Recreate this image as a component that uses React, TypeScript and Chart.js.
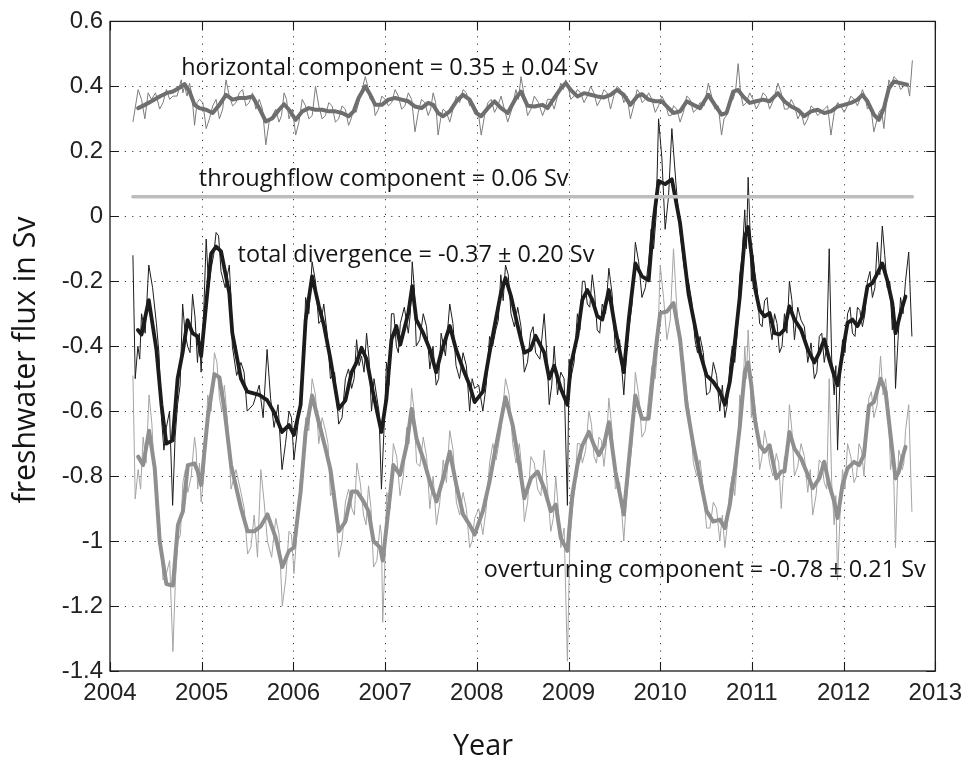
import { useEffect, useRef } from "react";
import { Chart, registerables } from "chart.js";

Chart.register(...registerables);

// ---------- data (decimal years, Sv) ----------
const BLACK_YEARS = [
  2004.304, 2004.344, 2004.423, 2004.506, 2004.561, 2004.615, 2004.683, 2004.737, 2004.792, 2004.846,
  2004.9, 2004.954, 2004.994, 2005.049, 2005.103, 2005.157, 2005.211, 2005.301, 2005.334, 2005.428,
  2005.496, 2005.627, 2005.713, 2005.789, 2005.876, 2005.952, 2006.006, 2006.079, 2006.133, 2006.204,
  2006.277, 2006.331, 2006.404, 2006.494, 2006.567, 2006.635, 2006.689, 2006.743, 2006.798, 2006.852,
  2006.906, 2006.96, 2007.015, 2007.069, 2007.123, 2007.166, 2007.253, 2007.296, 2007.34, 2007.416,
  2007.488, 2007.557, 2007.611, 2007.705, 2007.774, 2007.85, 2007.922, 2007.976, 2008.066, 2008.139,
  2008.207, 2008.262, 2008.313, 2008.373, 2008.446, 2008.518, 2008.587, 2008.641, 2008.735, 2008.79,
  2008.844, 2008.916, 2008.988, 2009.024, 2009.097, 2009.151, 2009.205, 2009.259, 2009.313, 2009.368,
  2009.44, 2009.512, 2009.603, 2009.657, 2009.729, 2009.801, 2009.874, 2009.928, 2009.982, 2010.054,
  2010.127, 2010.217, 2010.308, 2010.379, 2010.434, 2010.506, 2010.579, 2010.65, 2010.705, 2010.759,
  2010.813, 2010.867, 2010.922, 2010.959, 2010.994, 2011.03, 2011.084, 2011.138, 2011.193, 2011.247,
  2011.301, 2011.355, 2011.409, 2011.464, 2011.536, 2011.609, 2011.681, 2011.735, 2011.789, 2011.843,
  2011.897, 2011.934, 2011.988, 2012.043, 2012.097, 2012.151, 2012.205, 2012.26, 2012.314, 2012.368,
  2012.422, 2012.476, 2012.531, 2012.566, 2012.621, 2012.675,
];
const BLACK_THICK = [
  -0.35, -0.364, -0.258, -0.41, -0.58, -0.7, -0.69, -0.5, -0.42, -0.32,
  -0.36, -0.37, -0.43, -0.27, -0.115, -0.093, -0.108, -0.237, -0.36, -0.5,
  -0.54, -0.55, -0.566, -0.603, -0.664, -0.643, -0.673, -0.58, -0.32, -0.185,
  -0.276, -0.333, -0.44, -0.593, -0.567, -0.48, -0.45, -0.405, -0.44, -0.52,
  -0.593, -0.664, -0.56, -0.38, -0.338, -0.395, -0.298, -0.215, -0.318, -0.36,
  -0.41, -0.48, -0.42, -0.338, -0.41, -0.47, -0.52, -0.572, -0.54, -0.42,
  -0.318, -0.237, -0.19, -0.246, -0.338, -0.42, -0.41, -0.368, -0.42, -0.5,
  -0.46, -0.53, -0.58, -0.46, -0.368, -0.257, -0.227, -0.257, -0.307, -0.318,
  -0.227, -0.349, -0.48, -0.318, -0.145, -0.185, -0.197, -0.013, 0.109, 0.099,
  0.114, -0.022, -0.237, -0.338, -0.42, -0.49, -0.51, -0.54, -0.58, -0.51,
  -0.39, -0.25, -0.064, -0.033, -0.115, -0.216, -0.288, -0.308, -0.298, -0.36,
  -0.364, -0.349, -0.277, -0.318, -0.349, -0.41, -0.45, -0.42, -0.379, -0.44,
  -0.49, -0.52, -0.42, -0.328, -0.318, -0.338, -0.308, -0.216, -0.206, -0.176,
  -0.145, -0.197, -0.267, -0.36, -0.298, -0.247,
];
// raw (thin) values at the same dates as the smoothed curve
const BLACK_THIN = [
  -0.4, -0.3, -0.15, -0.33, -0.62, -0.65, -0.89, -0.58, -0.27, -0.4,
  -0.24, -0.45, -0.48, -0.07, -0.16, -0.05, -0.17, -0.15, -0.4, -0.45,
  -0.6, -0.52, -0.41, -0.65, -0.78, -0.6, -0.75, -0.55, -0.25, -0.14,
  -0.33, -0.27, -0.5, -0.64, -0.5, -0.53, -0.38, -0.43, -0.36, -0.6,
  -0.55, -0.84, -0.45, -0.3, -0.4, -0.33, -0.36, -0.14, -0.4, -0.3,
  -0.47, -0.52, -0.36, -0.27, -0.46, -0.42, -0.6, -0.53, -0.6, -0.37,
  -0.35, -0.18, -0.15, -0.3, -0.28, -0.48, -0.36, -0.42, -0.3, -0.58,
  -0.4, -0.48, -0.89, -0.5, -0.3, -0.2, -0.27, -0.18, -0.35, -0.27,
  -0.16, -0.42, -0.55, -0.35, -0.08, -0.25, -0.14, -0.1, 0.3, -0.04,
  0.27, -0.05, -0.2, -0.38, -0.37, -0.55, -0.45, -0.6, -0.62, -0.46,
  -0.45, -0.18, 0.02, 0.12, -0.2, -0.17, -0.33, -0.26, -0.33, -0.3,
  -0.42, -0.3, -0.2, -0.38, -0.32, -0.45, -0.5, -0.37, -0.45, -0.1,
  -0.55, -0.72, -0.38, -0.3, -0.36, -0.28, -0.34, -0.2, -0.25, -0.08,
  -0.03, -0.22, -0.35, -0.53, -0.25, -0.2,
];
// raw (thin) values half-way between those dates
const BLACK_THIN_MID = [
  -0.44, -0.36, -0.22, -0.42, -0.72, -0.6, -0.68, -0.52, -0.36, -0.42,
  -0.31, -0.36, -0.3, -0.22, -0.12, -0.06, -0.22, -0.24, -0.49, -0.48,
  -0.58, -0.62, -0.56, -0.58, -0.7, -0.62, -0.66, -0.47, -0.3, -0.2,
  -0.32, -0.36, -0.48, -0.62, -0.47, -0.5, -0.46, -0.48, -0.44, -0.5,
  -0.6, -0.66, -0.52, -0.3, -0.42, -0.28, -0.3, -0.22, -0.38, -0.34,
  -0.4, -0.5, -0.43, -0.33, -0.5, -0.46, -0.5, -0.52, -0.52, -0.4,
  -0.32, -0.26, -0.18, -0.34, -0.34, -0.45, -0.34, -0.44, -0.42, -0.52,
  -0.55, -0.5, -0.44, -0.45, -0.35, -0.2, -0.28, -0.24, -0.36, -0.3,
  -0.24, -0.38, -0.43, -0.27, -0.14, -0.22, -0.04, 0.0, 0.18, 0.06,
  0.1, -0.16, -0.26, -0.42, -0.42, -0.54, -0.49, -0.52, -0.58, -0.4,
  -0.36, -0.12, -0.1, -0.02, -0.12, -0.22, -0.34, -0.25, -0.38, -0.33,
  -0.4, -0.36, -0.26, -0.28, -0.34, -0.39, -0.48, -0.36, -0.4, -0.44,
  -0.46, -0.5, -0.42, -0.28, -0.37, -0.29, -0.3, -0.17, -0.22, -0.18,
  -0.12, -0.2, -0.28, -0.38, -0.3,
];
const BLACK_THIN_HEAD_YEARS = [2004.25, 2004.275];
const BLACK_THIN_HEAD = [-0.12, -0.5];
const BLACK_THIN_TAIL_YEARS = [2012.71, 2012.745];
const BLACK_THIN_TAIL = [-0.11, -0.37];

const OVER_YEARS = [
  2004.307, 2004.361, 2004.426, 2004.488, 2004.542, 2004.615, 2004.686, 2004.741, 2004.795, 2004.849,
  2004.922, 2004.957, 2004.994, 2005.066, 2005.139, 2005.193, 2005.247, 2005.32, 2005.428, 2005.5,
  2005.572, 2005.645, 2005.717, 2005.808, 2005.879, 2005.952, 2006.006, 2006.079, 2006.133, 2006.204,
  2006.277, 2006.35, 2006.404, 2006.494, 2006.567, 2006.638, 2006.692, 2006.765, 2006.819, 2006.874,
  2006.946, 2006.974, 2007.018, 2007.09, 2007.163, 2007.235, 2007.289, 2007.343, 2007.416, 2007.488,
  2007.56, 2007.633, 2007.705, 2007.777, 2007.85, 2007.922, 2007.976, 2008.066, 2008.139, 2008.211,
  2008.313, 2008.392, 2008.464, 2008.518, 2008.59, 2008.663, 2008.735, 2008.807, 2008.861, 2008.916,
  2008.988, 2009.042, 2009.097, 2009.151, 2009.223, 2009.278, 2009.332, 2009.386, 2009.44, 2009.512,
  2009.603, 2009.657, 2009.729, 2009.801, 2009.874, 2009.946, 2010.0, 2010.073, 2010.145, 2010.217,
  2010.289, 2010.362, 2010.434, 2010.506, 2010.579, 2010.65, 2010.705, 2010.759, 2010.813, 2010.867,
  2010.922, 2010.959, 2010.994, 2011.03, 2011.084, 2011.138, 2011.193, 2011.266, 2011.32, 2011.355,
  2011.409, 2011.464, 2011.536, 2011.609, 2011.663, 2011.735, 2011.789, 2011.843, 2011.897, 2011.934,
  2011.988, 2012.043, 2012.114, 2012.168, 2012.222, 2012.276, 2012.33, 2012.403, 2012.458, 2012.512,
  2012.566, 2012.602, 2012.639, 2012.675,
];
const OVER_THICK = [
  -0.74, -0.766, -0.66, -0.776, -1.0, -1.132, -1.137, -0.95, -0.908, -0.766,
  -0.761, -0.786, -0.827, -0.62, -0.486, -0.496, -0.593, -0.766, -0.898, -0.97,
  -0.97, -0.954, -0.918, -0.99, -1.08, -1.03, -1.02, -0.847, -0.664, -0.552,
  -0.634, -0.715, -0.78, -0.97, -0.94, -0.847, -0.847, -0.878, -0.908, -1.0,
  -1.02, -1.06, -0.95, -0.766, -0.796, -0.705, -0.593, -0.685, -0.746, -0.817,
  -0.878, -0.807, -0.725, -0.827, -0.918, -0.95, -0.98, -0.908, -0.817, -0.705,
  -0.557, -0.644, -0.766, -0.868, -0.807, -0.786, -0.837, -0.908, -0.888, -0.99,
  -1.03, -0.857, -0.766, -0.705, -0.664, -0.705, -0.735, -0.705, -0.634, -0.786,
  -0.918, -0.756, -0.552, -0.623, -0.623, -0.42, -0.298, -0.293, -0.267, -0.379,
  -0.583, -0.705, -0.807, -0.908, -0.94, -0.934, -0.96, -0.888, -0.78, -0.65,
  -0.48, -0.45, -0.52, -0.623, -0.705, -0.725, -0.705, -0.807, -0.786, -0.786,
  -0.664, -0.715, -0.746, -0.796, -0.837, -0.807, -0.756, -0.827, -0.878, -0.929,
  -0.827, -0.776, -0.756, -0.766, -0.735, -0.583, -0.572, -0.5, -0.54, -0.674,
  -0.807, -0.786, -0.746, -0.71,
];
const OVER_THIN = [
  -0.78, -0.68, -0.55, -0.82, -0.95, -1.1, -1.34, -1.0, -0.82, -0.85,
  -0.68, -0.84, -0.88, -0.55, -0.42, -0.56, -0.52, -0.84, -0.85, -1.04,
  -0.92, -0.78, -1.0, -0.93, -1.2, -0.97, -1.1, -0.8, -0.62, -0.5,
  -0.7, -0.66, -0.86, -1.05, -0.88, -0.9, -0.76, -0.92, -0.83, -1.08,
  -0.95, -1.25, -0.85, -0.7, -0.86, -0.65, -0.53, -0.76, -0.68, -0.9,
  -0.95, -0.75, -0.66, -0.88, -0.85, -1.02, -0.93, -0.98, -0.76, -0.75,
  -0.5, -0.7, -0.7, -0.94, -0.74, -0.84, -0.72, -0.97, -0.8, -1.02,
  -1.37, -0.9, -0.7, -0.76, -0.6, -0.74, -0.68, -0.77, -0.56, -0.84,
  -1.0, -0.8, -0.48, -0.68, -0.56, -0.5, -0.15, -0.38, -0.1, -0.4,
  -0.55, -0.76, -0.75, -0.96, -0.88, -1.0, -1.02, -0.84, -0.86, -0.55,
  -0.4, -0.35, -0.62, -0.58, -0.78, -0.66, -0.76, -0.73, -0.9, -0.74,
  -0.58, -0.8, -0.7, -0.85, -0.92, -0.75, -0.82, -0.5, -0.95, -1.12,
  -0.78, -0.7, -0.82, -0.7, -0.8, -0.56, -0.62, -0.43, -0.5, -0.78,
  -1.02, -0.72, -0.78, -0.66,
];
const OVER_THIN_MID = [
  -0.84, -0.76, -0.64, -0.86, -1.12, -1.06, -1.12, -0.98, -0.78, -0.8,
  -0.72, -0.76, -0.78, -0.6, -0.45, -0.6, -0.64, -0.78, -0.9, -1.02,
  -1.05, -0.88, -1.05, -0.98, -1.12, -0.98, -0.96, -0.78, -0.66, -0.55,
  -0.62, -0.7, -0.84, -1.0, -0.84, -0.92, -0.82, -0.95, -0.9, -1.06,
  -0.98, -1.08, -0.9, -0.74, -0.8, -0.7, -0.6, -0.77, -0.74, -0.8,
  -0.88, -0.82, -0.72, -0.92, -0.9, -1.0, -0.9, -0.9, -0.7, -0.66,
  -0.55, -0.76, -0.78, -0.88, -0.76, -0.86, -0.84, -0.93, -0.9, -0.96,
  -1.0, -0.84, -0.7, -0.72, -0.64, -0.76, -0.69, -0.7, -0.66, -0.82,
  -0.88, -0.7, -0.55, -0.66, -0.46, -0.4, -0.25, -0.32, -0.28, -0.44,
  -0.62, -0.8, -0.84, -0.96, -0.9, -0.92, -0.95, -0.8, -0.76, -0.6,
  -0.5, -0.45, -0.54, -0.64, -0.74, -0.7, -0.8, -0.76, -0.82, -0.75,
  -0.66, -0.77, -0.74, -0.78, -0.86, -0.76, -0.84, -0.82, -0.86, -0.92,
  -0.84, -0.74, -0.8, -0.72, -0.68, -0.54, -0.58, -0.55, -0.58, -0.72,
  -0.84, -0.74, -0.76,
];
const OVER_THIN_HEAD_YEARS = [2004.25, 2004.275];
const OVER_THIN_HEAD = [-0.49, -0.87];
const OVER_THIN_TAIL_YEARS = [2012.71, 2012.745];
const OVER_THIN_TAIL = [-0.58, -0.91];

const HORIZ_YEARS = [
  2004.307, 2004.38, 2004.452, 2004.542, 2004.615, 2004.686, 2004.777, 2004.813, 2004.867, 2004.922,
  2004.976, 2005.049, 2005.12, 2005.193, 2005.265, 2005.337, 2005.41, 2005.482, 2005.554, 2005.627,
  2005.699, 2005.771, 2005.843, 2005.898, 2005.952, 2006.025, 2006.096, 2006.169, 2006.241, 2006.313,
  2006.386, 2006.458, 2006.53, 2006.602, 2006.657, 2006.711, 2006.784, 2006.838, 2006.892, 2006.964,
  2007.036, 2007.109, 2007.18, 2007.253, 2007.326, 2007.397, 2007.47, 2007.524, 2007.578, 2007.633,
  2007.705, 2007.777, 2007.85, 2007.922, 2007.994, 2008.048, 2008.121, 2008.193, 2008.265, 2008.337,
  2008.427, 2008.482, 2008.554, 2008.627, 2008.717, 2008.771, 2008.844, 2008.916, 2008.97, 2009.024,
  2009.097, 2009.169, 2009.241, 2009.313, 2009.386, 2009.458, 2009.53, 2009.603, 2009.675, 2009.748,
  2009.801, 2009.874, 2009.946, 2010.018, 2010.091, 2010.145, 2010.217, 2010.289, 2010.362, 2010.434,
  2010.525, 2010.596, 2010.669, 2010.723, 2010.796, 2010.85, 2010.904, 2010.976, 2011.048, 2011.121,
  2011.193, 2011.284, 2011.355, 2011.428, 2011.501, 2011.572, 2011.645, 2011.717, 2011.789, 2011.862,
  2011.934, 2012.006, 2012.078, 2012.151, 2012.205, 2012.26, 2012.33, 2012.385, 2012.439, 2012.494,
  2012.548, 2012.621, 2012.693,
];
const HORIZ_THICK = [
  0.333, 0.343, 0.354, 0.369, 0.379, 0.384, 0.399, 0.407, 0.384, 0.343,
  0.333, 0.328, 0.318, 0.343, 0.374, 0.359, 0.364, 0.364, 0.369, 0.333,
  0.292, 0.302, 0.328, 0.345, 0.328, 0.297, 0.323, 0.333, 0.328, 0.328,
  0.323, 0.323, 0.318, 0.308, 0.323, 0.364, 0.4, 0.374, 0.343, 0.343,
  0.359, 0.364, 0.359, 0.354, 0.338, 0.333, 0.349, 0.343, 0.318, 0.308,
  0.323, 0.354, 0.374, 0.359, 0.318, 0.308, 0.333, 0.354, 0.333, 0.318,
  0.364, 0.384, 0.34, 0.338, 0.343, 0.333, 0.364, 0.394, 0.41, 0.389,
  0.369, 0.379, 0.374, 0.369, 0.366, 0.374, 0.389, 0.374, 0.343, 0.369,
  0.376, 0.359, 0.354, 0.354, 0.333, 0.318, 0.323, 0.354, 0.343, 0.333,
  0.374, 0.343, 0.313, 0.318, 0.384, 0.389, 0.369, 0.349, 0.354, 0.359,
  0.354, 0.379, 0.354, 0.338, 0.328, 0.308, 0.323, 0.328, 0.318, 0.323,
  0.338, 0.343, 0.349, 0.359, 0.374, 0.354, 0.313, 0.297, 0.333, 0.394,
  0.415, 0.41, 0.405,
];
const HORIZ_THIN = [
  0.39, 0.3, 0.36, 0.33, 0.39, 0.37, 0.42, 0.4, 0.41, 0.28,
  0.36, 0.27, 0.34, 0.3, 0.42, 0.34, 0.38, 0.34, 0.38, 0.36,
  0.22, 0.31, 0.29, 0.38, 0.3, 0.25, 0.36, 0.3, 0.4, 0.3,
  0.35, 0.29, 0.34, 0.28, 0.33, 0.35, 0.43, 0.36, 0.31, 0.37,
  0.34, 0.39, 0.33, 0.38, 0.26, 0.36, 0.31, 0.38, 0.25, 0.33,
  0.29, 0.37, 0.39, 0.34, 0.33, 0.25, 0.35, 0.32, 0.37, 0.29,
  0.39, 0.43, 0.31, 0.37, 0.31, 0.36, 0.33, 0.41, 0.42, 0.36,
  0.39, 0.35, 0.4, 0.34, 0.39, 0.33, 0.4, 0.35, 0.3, 0.39,
  0.35, 0.38, 0.32, 0.37, 0.31, 0.34, 0.29, 0.37, 0.32, 0.35,
  0.41, 0.33, 0.25, 0.31, 0.36, 0.47, 0.34, 0.38, 0.33, 0.38,
  0.33, 0.41, 0.33, 0.36, 0.3, 0.28, 0.34, 0.31, 0.33, 0.25,
  0.35, 0.32, 0.37, 0.34, 0.39, 0.33, 0.26, 0.32, 0.27, 0.42,
  0.43, 0.39, 0.41,
];
const HORIZ_THIN_MID = [
  0.36, 0.38, 0.38, 0.35, 0.36, 0.37, 0.38, 0.37, 0.37, 0.35,
  0.35, 0.3, 0.36, 0.33, 0.37, 0.35, 0.39, 0.35, 0.33, 0.33,
  0.29, 0.33, 0.31, 0.36, 0.33, 0.29, 0.34, 0.31, 0.34, 0.31,
  0.34, 0.3, 0.33, 0.3, 0.32, 0.39, 0.4, 0.37, 0.33, 0.36,
  0.35, 0.37, 0.34, 0.36, 0.32, 0.35, 0.33, 0.35, 0.3, 0.32,
  0.33, 0.35, 0.38, 0.35, 0.31, 0.31, 0.36, 0.34, 0.33, 0.33,
  0.36, 0.37, 0.33, 0.35, 0.33, 0.36, 0.37, 0.39, 0.4, 0.37,
  0.38, 0.37, 0.38, 0.36, 0.38, 0.37, 0.39, 0.37, 0.34, 0.38,
  0.36, 0.36, 0.34, 0.35, 0.31, 0.33, 0.32, 0.36, 0.33, 0.34,
  0.37, 0.34, 0.3, 0.35, 0.39, 0.38, 0.35, 0.36, 0.35, 0.37,
  0.36, 0.38, 0.33, 0.34, 0.32, 0.3, 0.33, 0.32, 0.34, 0.32,
  0.34, 0.34, 0.36, 0.36, 0.37, 0.34, 0.29, 0.33, 0.35, 0.4,
  0.42, 0.4,
];
const HORIZ_THIN_HEAD_YEARS = [2004.25];
const HORIZ_THIN_HEAD = [0.29];
const HORIZ_THIN_TAIL_YEARS = [2012.72, 2012.75];
const HORIZ_THIN_TAIL = [0.37, 0.48];

const THROUGH_YEARS = [2004.25, 2012.75];
const THROUGH_VALUES = [0.06, 0.06];

const X_MIN = 2004;
const X_MAX = 2013;
const X_STEP = 1;
const Y_MIN = -1.4;
const Y_MAX = 0.6;
const Y_STEP = 0.2;

const ANNOTATIONS = [
  { text: "horizontal component = 0.35 \u00b1 0.04 Sv", year: 2004.777, value: 0.435, width: 417 },
  { text: "throughflow component = 0.06 Sv", year: 2004.968, value: 0.094, width: 370 },
  { text: "total divergence = -0.37 \u00b1 0.20 Sv", year: 2005.391, value: -0.14, width: 357 },
  { text: "overturning component = -0.78 \u00b1 0.21 Sv", year: 2008.077, value: -1.112, width: 442 },
];
const X_TITLE = "Year";
const Y_TITLE = "freshwater flux in Sv";

// ---------- helpers ----------
const pts = (xs: number[], ys: number[]) => xs.map((x, i) => ({ x, y: ys[i] }));

// raw series: values at the smoothed dates interleaved with the values half-way between them
function rawSeries(
  headYears: number[], head: number[],
  years: number[], at: number[], mid: number[],
  tailYears: number[], tail: number[]
) {
  const out = pts(headYears, head);
  years.forEach((yr, i) => {
    out.push({ x: yr, y: at[i] });
    if (i < years.length - 1) out.push({ x: (yr + years[i + 1]) / 2, y: mid[i] });
  });
  return out.concat(pts(tailYears, tail));
}

const TEXT_FONT = "'Open Sans', 'Noto Sans', sans-serif";
const TICK_FONT = "'Liberation Sans', Arial, sans-serif";

// sets a font whose natural width for `text` equals `width`
function fitFont(ctx: CanvasRenderingContext2D, text: string, width: number) {
  ctx.font = `20px ${TEXT_FONT}`;
  const w = ctx.measureText(text).width;
  ctx.font = `${((20 * width) / w).toFixed(2)}px ${TEXT_FONT}`;
}

const framePlugin = {
  id: "matlabFrame",
  beforeDatasetsDraw(chart: any) {
    const { ctx, chartArea: a, scales } = chart;
    const xs = scales.x;
    const ys = scales.y;
    ctx.save();
    ctx.strokeStyle = "#3a3a3a";
    ctx.lineWidth = 1;
    ctx.setLineDash([1.2, 6.2]);
    xs.ticks.forEach((t: any) => {
      const px = Math.round(xs.getPixelForValue(t.value)) + 0.5;
      if (px <= a.left + 2 || px >= a.right - 2) return;
      ctx.beginPath();
      ctx.moveTo(px, a.top);
      ctx.lineTo(px, a.bottom);
      ctx.stroke();
    });
    ys.ticks.forEach((t: any) => {
      const py = Math.round(ys.getPixelForValue(t.value)) + 0.5;
      if (py <= a.top + 2 || py >= a.bottom - 2) return;
      ctx.beginPath();
      ctx.moveTo(a.left, py);
      ctx.lineTo(a.right, py);
      ctx.stroke();
    });
    ctx.restore();
  },
  afterDatasetsDraw(chart: any) {
    const { ctx, chartArea: a, scales } = chart;
    const xs = scales.x;
    const ys = scales.y;
    const tl = 9;
    ctx.save();
    ctx.strokeStyle = "#1a1a1a";
    ctx.lineWidth = 1.3;
    ctx.setLineDash([]);
    ctx.strokeRect(a.left, a.top, a.right - a.left, a.bottom - a.top);
    ctx.lineWidth = 1.1;
    xs.ticks.forEach((t: any) => {
      const px = Math.round(xs.getPixelForValue(t.value)) + 0.5;
      ctx.beginPath();
      ctx.moveTo(px, a.bottom);
      ctx.lineTo(px, a.bottom - tl);
      ctx.moveTo(px, a.top);
      ctx.lineTo(px, a.top + tl);
      ctx.stroke();
    });
    ys.ticks.forEach((t: any) => {
      const py = Math.round(ys.getPixelForValue(t.value)) + 0.5;
      ctx.beginPath();
      ctx.moveTo(a.left, py);
      ctx.lineTo(a.left + tl, py);
      ctx.moveTo(a.right, py);
      ctx.lineTo(a.right - tl, py);
      ctx.stroke();
    });
    ctx.restore();
  },
  afterDraw(chart: any) {
    const { ctx, scales, chartArea: a } = chart;
    const xs = scales.x;
    const ys = scales.y;
    ctx.save();
    ctx.fillStyle = "#151515";
    ctx.textAlign = "left";
    ctx.textBaseline = "alphabetic";
    ANNOTATIONS.forEach((an) => {
      fitFont(ctx, an.text, an.width);
      ctx.fillText(an.text, xs.getPixelForValue(an.year), ys.getPixelForValue(an.value));
    });
    // x title
    fitFont(ctx, X_TITLE, 60);
    ctx.textAlign = "center";
    ctx.fillText(X_TITLE, a.left + 373, 755);
    // y title
    fitFont(ctx, Y_TITLE, 287);
    ctx.translate(35, 360);
    ctx.rotate(-Math.PI / 2);
    ctx.textAlign = "center";
    ctx.fillText(Y_TITLE, 0, 0);
    ctx.restore();
  },
};

export default function App() {
  const ref = useRef<HTMLCanvasElement | null>(null);

  useEffect(() => {
    if (!ref.current) return;
    const thin = (color: string, data: any) => ({
      data,
      borderColor: color,
      borderWidth: 1,
      pointRadius: 0,
      tension: 0,
      fill: false,
    });
    const thick = (color: string, width: number, data: any) => ({
      data,
      borderColor: color,
      borderWidth: width,
      pointRadius: 0,
      tension: 0,
      fill: false,
      borderJoinStyle: "round" as const,
      borderCapStyle: "round" as const,
    });
    const chart = new Chart(ref.current, {
      type: "line",
      data: {
        datasets: [
          thick("#bdbdbd", 3.6, pts(THROUGH_YEARS, THROUGH_VALUES)),
          thick("#1c1c1c", 3.8, pts(BLACK_YEARS, BLACK_THICK)),
          thick("#8f8f8f", 4, pts(OVER_YEARS, OVER_THICK)),
          thick("#6e6e6e", 4, pts(HORIZ_YEARS, HORIZ_THICK)),
          thin(
            "#1c1c1c",
            rawSeries(BLACK_THIN_HEAD_YEARS, BLACK_THIN_HEAD, BLACK_YEARS, BLACK_THIN, BLACK_THIN_MID,
              BLACK_THIN_TAIL_YEARS, BLACK_THIN_TAIL)
          ),
          thin(
            "#a4a4a4",
            rawSeries(OVER_THIN_HEAD_YEARS, OVER_THIN_HEAD, OVER_YEARS, OVER_THIN, OVER_THIN_MID,
              OVER_THIN_TAIL_YEARS, OVER_THIN_TAIL)
          ),
          thin(
            "#7c7c7c",
            rawSeries(HORIZ_THIN_HEAD_YEARS, HORIZ_THIN_HEAD, HORIZ_YEARS, HORIZ_THIN, HORIZ_THIN_MID,
              HORIZ_THIN_TAIL_YEARS, HORIZ_THIN_TAIL)
          ),
        ],
      },
      options: {
        animation: false,
        responsive: false,
        devicePixelRatio: 1,
        layout: { padding: { top: 16, right: 30, left: 0, bottom: 0 } },
        plugins: { legend: { display: false }, tooltip: { enabled: false } },
        scales: {
          x: {
            type: "linear",
            min: X_MIN,
            max: X_MAX,
            grid: { display: false, drawTicks: false },
            border: { display: false },
            ticks: {
              stepSize: X_STEP,
              autoSkip: false,
              maxRotation: 0,
              padding: 8,
              color: "#222",
              font: { family: TICK_FONT, size: 24 },
              callback: (v: any) => String(v),
            },
            afterFit: (s: any) => {
              s.height = 87;
            },
          },
          y: {
            type: "linear",
            min: Y_MIN,
            max: Y_MAX,
            grid: { display: false, drawTicks: false },
            border: { display: false },
            ticks: {
              stepSize: Y_STEP,
              autoSkip: false,
              padding: 7,
              color: "#222",
              font: { family: TICK_FONT, size: 24 },
              callback: (v: any) => String(Number(Number(v).toFixed(1))),
            },
            afterFit: (s: any) => {
              s.width = 110;
            },
          },
        },
      },
      plugins: [framePlugin],
    });
    return () => chart.destroy();
  }, []);

  return (
    <div style={{ position: "absolute", left: 0, top: 0, width: 970, height: 758, background: "#fff" }}>
      <canvas ref={ref} width={970} height={758} style={{ display: "block" }} />
    </div>
  );
}
